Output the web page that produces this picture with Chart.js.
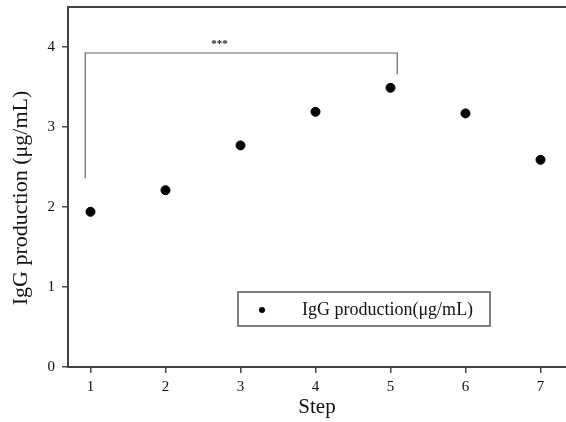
<!DOCTYPE html>
<html>
<head>
<meta charset="utf-8">
<script src="https://cdn.jsdelivr.net/npm/chart.js@4"></script>
<style>
  html, body { margin: 0; padding: 0; background: #fff; }
  #wrap { width: 566px; height: 422px; position: relative; }
</style>
</head>
<body>
<div id="wrap"><canvas id="iggChart" width="566" height="422"></canvas></div>
<script>
// Data
const steps = [1, 2, 3, 4, 5, 6, 7];
const igg = [1.94, 2.21, 2.77, 3.19, 3.49, 3.17, 2.59];
const xTicks = [1, 2, 3, 4, 5, 6, 7];
const yTicks = [0, 1, 2, 3, 4];
// significance bracket between step 1 and step 5
const bracketX = [0.93, 0.93, 5.09, 5.09];
const bracketY = [2.36, 3.925, 3.925, 3.66];
const sigLabel = "***";
const legendLabel = "IgG production(\u03bcg/mL)";

const serif = "'Liberation Serif', 'Times New Roman', serif";
const axisColor = "#444";

// no extra label padding, so the plot area sits where the reference has it
function noPad(s) {
  s.paddingTop = 0;
  s.paddingBottom = 0;
  s.paddingLeft = 0;
  s.paddingRight = 0;
}

// top frame, the *** mark and the boxed legend
const extras = {
  id: "extras",
  afterDraw(chart) {
    const c = chart.ctx;
    const a = chart.chartArea;
    const xs = chart.scales.x;
    const ys = chart.scales.y;
    c.save();
    c.strokeStyle = axisColor;
    c.lineWidth = 2;
    c.beginPath();
    c.moveTo(a.left - 1, a.top);
    c.lineTo(a.right, a.top);
    c.stroke();

    c.fillStyle = "#222";
    c.font = "bold 11px " + serif;
    c.textAlign = "center";
    c.textBaseline = "middle";
    c.fillText(sigLabel, xs.getPixelForValue(2.72), ys.getPixelForValue(3.925) - 9);

    // legend box
    const bx = 238, by = 292, bw = 252, bh = 34;
    c.strokeStyle = "#555";
    c.lineWidth = 1.5;
    c.strokeRect(bx, by, bw, bh);
    c.fillStyle = "#000";
    c.beginPath();
    c.arc(bx + 24, by + 18, 3, 0, Math.PI * 2);
    c.fill();
    c.font = "18px " + serif;
    c.textAlign = "left";
    c.fillStyle = "#111";
    c.fillText(legendLabel, bx + 64, by + 18);
    c.restore();
  }
};

const ctx = document.getElementById("iggChart").getContext("2d");
new Chart(ctx, {
  type: "scatter",
  data: {
    datasets: [
      {
        data: steps.map((s, i) => ({ x: s, y: igg[i] })),
        backgroundColor: "#000",
        borderColor: "#000",
        pointRadius: 4.5,
        pointHoverRadius: 4.5,
      },
      {
        data: bracketX.map((x, i) => ({ x: x, y: bracketY[i] })),
        showLine: true,
        borderColor: "#666",
        borderWidth: 1.2,
        pointRadius: 0,
        fill: false,
      },
    ],
  },
  options: {
    responsive: false,
    animation: false,
    layout: { autoPadding: false, padding: { top: 7, right: 0, left: 0, bottom: 0 } },
    plugins: {
      legend: { display: false },
      tooltip: { enabled: false },
    },
    scales: {
      x: {
        type: "linear",
        min: 0.7,
        max: 7.34,
        afterBuildTicks: (s) => { s.ticks = xTicks.map((v) => ({ value: v })); },
        afterFit: (s) => { s.height = 55; noPad(s); },
        ticks: {
          color: "#111",
          font: { family: serif, size: 15 },
          padding: 5,
        },
        grid: {
          drawOnChartArea: false,
          drawTicks: true,
          tickLength: 6,
          color: axisColor,
          lineWidth: 1.5,
        },
        border: { color: axisColor, width: 2 },
        title: {
          display: true,
          text: "Step",
          color: "#111",
          font: { family: serif, size: 21 },
          padding: { top: 0, bottom: 2 },
        },
      },
      y: {
        min: 0,
        max: 4.5,
        afterBuildTicks: (s) => { s.ticks = yTicks.map((v) => ({ value: v })); },
        afterFit: (s) => { s.width = 68; noPad(s); },
        ticks: {
          color: "#111",
          font: { family: serif, size: 15 },
          padding: 7,
        },
        grid: {
          drawOnChartArea: false,
          drawTicks: true,
          tickLength: 6,
          color: axisColor,
          lineWidth: 1.5,
        },
        border: { color: axisColor, width: 2 },
        title: {
          display: true,
          // trailing spaces nudge the rotated title down a little, as in the reference
          text: "IgG production (\u03bcg/mL)\u00a0\u00a0\u00a0\u00a0",
          color: "#111",
          font: { family: serif, size: 22 },
          padding: { top: 8, bottom: 4 },
        },
      },
    },
  },
  plugins: [extras],
});
</script>
</body>
</html>
